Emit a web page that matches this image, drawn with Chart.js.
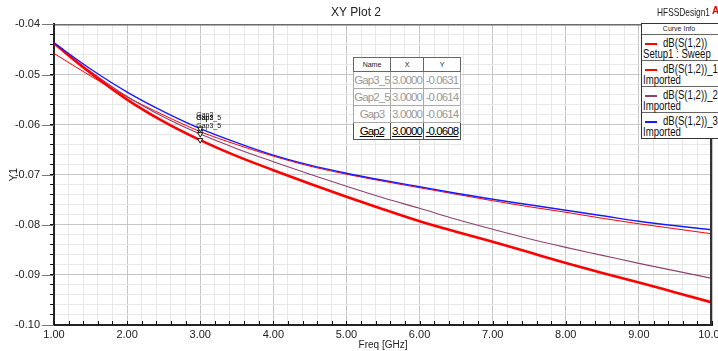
<!DOCTYPE html>
<html>
<head>
<meta charset="utf-8">
<script src="https://cdn.jsdelivr.net/npm/chart.js@4.4.1/dist/chart.umd.min.js"></script>
<style>
html, body { margin: 0; padding: 0; background: #fff; overflow: hidden; }
#wrap { position: relative; width: 718px; height: 351px; font-family: "Liberation Sans", Arial, sans-serif; }
#c { position: absolute; left: 0; top: 0; }
.design { position: absolute; left: 657px; top: 6px; font-size: 11px; color: #222; white-space: nowrap; transform: scaleX(0.76); transform-origin: 0 0; }
.logo { position: absolute; left: 712px; top: 5px; font-size: 10px; color: #e00; font-weight: bold; }
#curveInfo { position: absolute; left: 641px; top: 23px; width: 84px; border: 1px solid #333; background: #fff; }
#curveInfo .hd { height: 10px; line-height: 10px; font-size: 7px; text-align: center; border-bottom: 1px solid #666; color: #222; padding-right: 10px; }
#curveInfo .ent { position: relative; height: 25px; border-bottom: 1px solid #666; font-size: 12px; color: #111; }
#curveInfo .ent:last-child { border-bottom: none; }
#curveInfo .sw { position: absolute; left: 3px; top: 8px; width: 12px; height: 2px; }
#curveInfo .t1, #curveInfo .t2 { position: absolute; white-space: nowrap; transform: scaleX(0.8); transform-origin: 0 0; }
#curveInfo .t1 { left: 21px; top: 1px; }
#curveInfo .t2 { left: 1px; top: 12px; }
#markers { position: absolute; left: 353px; top: 57px; border-collapse: collapse; background: #fff; font-size: 11.5px; letter-spacing: -0.9px; }
#markers td { border: 1px solid #aaa; padding: 0; height: 16px; text-align: center; color: #999; white-space: nowrap; overflow: hidden; }
#markers tr.h td { height: 13px; font-size: 7px; letter-spacing: 0; color: #222; border-color: #666; }
#markers tr.sel td { color: #000; text-decoration: underline; border-color: #555; }
</style>
</head>
<body>
<div id="wrap">
  <canvas id="c" width="718" height="351"></canvas>
  <div class="design">HFSSDesign1</div>
  <div class="logo">A</div>
  <div id="curveInfo"></div>
  <table id="markers"></table>
</div>
<script>
var freq = [1, 1.5, 2, 2.5, 3, 3.5, 4, 4.5, 5, 5.5, 6, 6.5, 7, 7.5, 8, 8.5, 9, 9.5, 10];

// dB(S(1,2)) Setup1 : Sweep
var sweep = [-0.0458, -0.0503, -0.0545, -0.0581, -0.0614, -0.0640, -0.0663, -0.0683, -0.0699, -0.0713,
             -0.0726, -0.0739, -0.0752, -0.0764, -0.0775, -0.0787, -0.0798, -0.0808, -0.0818];
// dB(S(1,2))_1 Imported
var imp1 = [-0.0438, -0.0497, -0.0550, -0.0594, -0.0631, -0.0663, -0.0691, -0.0718, -0.0744, -0.0769,
            -0.0793, -0.0814, -0.0834, -0.0855, -0.0876, -0.0896, -0.0915, -0.0935, -0.0955];
// dB(S(1,2))_2 Imported
var imp2 = [-0.0437, -0.0494, -0.0544, -0.0585, -0.0619, -0.0648, -0.0674, -0.0699, -0.0723, -0.0746,
            -0.0767, -0.0789, -0.0809, -0.0828, -0.0845, -0.0861, -0.0877, -0.0892, -0.0907];
// dB(S(1,2))_3 Imported
var imp3 = [-0.0437, -0.0489, -0.0535, -0.0574, -0.0608, -0.0636, -0.0661, -0.0681, -0.0697, -0.0711,
            -0.0724, -0.0737, -0.0749, -0.0760, -0.0771, -0.0782, -0.0793, -0.0802, -0.0810];

var curveNames = ['dB(S(1,2))', 'dB(S(1,2))_1', 'dB(S(1,2))_2', 'dB(S(1,2))_3'];
var curveSources = ['Setup1 : Sweep', 'Imported', 'Imported', 'Imported'];
var curveColors = ['#ff0000', '#ff0000', '#8e4270', '#1a1aff'];

var markerNames = ['Gap3_5', 'Gap2_5', 'Gap3', 'Gap2'];
var markerX = [3, 3, 3, 3];
var markerY = [-0.0631, -0.0614, -0.0614, -0.0608];

// legend box
var ci = document.getElementById('curveInfo');
var html = '<div class="hd">Curve Info</div>';
for (var i = 0; i < curveNames.length; i++) {
    html += '<div class="ent"><span class="sw" style="background:' + curveColors[i] + '"></span>' +
            '<span class="t1">' + curveNames[i] + '</span><span class="t2">' + curveSources[i] + '</span></div>';
}
ci.innerHTML = html;

// marker table
var tb = '<tr class="h"><td style="width:36px">Name</td><td style="width:32px">X</td><td style="width:36px">Y</td></tr>';
for (var i = 0; i < markerNames.length; i++) {
    tb += '<tr' + (i == markerNames.length - 1 ? ' class="sel"' : '') + '><td>' + markerNames[i] + '</td><td>' +
          markerX[i].toFixed(4) + '</td><td>' + markerY[i].toFixed(4) + '</td></tr>';
}
document.getElementById('markers').innerHTML = tb;

function pts(arr) {
    return freq.map(function (f, k) { return {x: f, y: arr[k]}; });
}
function isMajor(v, m) {
    return Math.abs(v * m - Math.round(v * m)) < 1e-6;
}
function markerRadius(ctx) {
    return freq[ctx.dataIndex] === 3 ? 3 : 0;
}

Chart.defaults.font.family = '"Liberation Sans", Arial, sans-serif';
Chart.defaults.color = '#222';

// frame, extra tick marks and marker labels
var decor = {
    id: 'decor',
    afterDatasetsDraw: function (chart) {
        var c = chart.ctx, a = chart.chartArea;
        var xs = chart.scales.x, ys = chart.scales.y;
        c.save();
        c.strokeStyle = '#333';
        c.lineWidth = 1;
        c.beginPath(); c.moveTo(a.left, a.top + 0.5); c.lineTo(a.right, a.top + 0.5); c.stroke();
        c.lineWidth = 2;
        c.beginPath(); c.moveTo(a.right - 1, a.top); c.lineTo(a.right - 1, a.bottom); c.stroke();
        // long grey major ticks on y
        c.strokeStyle = '#777';
        c.lineWidth = 1;
        ys.ticks.forEach(function (t) {
            if (!isMajor(t.value, 100)) return;
            var py = Math.round(ys.getPixelForValue(t.value)) + 0.5;
            c.beginPath(); c.moveTo(a.left - 12, py); c.lineTo(a.left, py); c.stroke();
        });
        // short inward ticks on x
        c.strokeStyle = '#111';
        xs.ticks.forEach(function (t) {
            var px = Math.round(xs.getPixelForValue(t.value)) + 0.5;
            c.beginPath(); c.moveTo(px, a.bottom); c.lineTo(px, a.bottom - 4); c.stroke();
        });
        // marker labels
        c.fillStyle = '#111';
        c.font = '7px "Liberation Sans", Arial, sans-serif';
        c.textBaseline = 'middle';
        for (var i = 0; i < markerNames.length; i++) {
            var px = xs.getPixelForValue(markerX[i]);
            var py = ys.getPixelForValue(markerY[i]);
            c.fillText(markerNames[i], px - 4, py - 14);
        }
        c.restore();
    }
};

new Chart(document.getElementById('c'), {
    type: 'line',
    data: {
        datasets: [
            {label: curveNames[3], data: pts(imp3), borderColor: curveColors[3], borderWidth: 1.4},
            {label: curveNames[1], data: pts(imp1), borderColor: curveColors[1], borderWidth: 2.6},
            {label: curveNames[2], data: pts(imp2), borderColor: curveColors[2], borderWidth: 1.1},
            {label: curveNames[0], data: pts(sweep), borderColor: curveColors[0], borderWidth: 1}
        ].map(function (d) {
            d.fill = false;
            d.cubicInterpolationMode = 'monotone';
            d.pointRadius = markerRadius;
            d.pointStyle = 'triangle';
            d.rotation = 180;
            d.pointBorderColor = '#111';
            d.pointBackgroundColor = '#fff';
            d.pointBorderWidth = 1;
            return d;
        })
    },
    options: {
        responsive: false,
        animation: false,
        events: [],
        layout: {padding: {left: 0, right: 6, top: 0, bottom: 0}},
        plugins: {
            legend: {display: false},
            tooltip: {enabled: false},
            title: {
                display: true,
                text: 'XY Plot 2',
                color: '#222',
                font: {size: 12, weight: 'normal'},
                padding: {top: 5, bottom: 5}
            }
        },
        scales: {
            x: {
                type: 'linear',
                min: 1,
                max: 10,
                afterFit: function (s) { s.height = 26; s.paddingLeft = 0; s.paddingRight = 0; },
                ticks: {
                    stepSize: 0.2,
                    autoSkip: false,
                    maxRotation: 0,
                    padding: 3,
                    color: '#222',
                    font: {size: 11},
                    callback: function (v) { return isMajor(v, 1) ? v.toFixed(2) : ''; }
                },
                grid: {
                    drawTicks: false,
                    color: function (ctx) { return isMajor(ctx.tick.value, 1) ? '#c6c6c6' : '#e8e8e8'; }
                },
                border: {color: '#222', width: 2},
                title: {display: true, text: 'Freq [GHz]', color: '#222', font: {size: 10}, padding: {top: 0, bottom: 0}}
            },
            y: {
                type: 'linear',
                min: -0.1,
                max: -0.04,
                afterFit: function (s) { s.width = 54; s.paddingTop = 0; s.paddingBottom = 0; },
                ticks: {
                    stepSize: 0.002,
                    autoSkip: false,
                    padding: 10,
                    color: '#222',
                    font: {size: 11},
                    callback: function (v) { return isMajor(v, 100) ? v.toFixed(2) : ''; }
                },
                grid: {
                    drawTicks: true,
                    tickLength: 4,
                    tickColor: '#111',
                    color: function (ctx) { return isMajor(ctx.tick.value, 100) ? '#c6c6c6' : '#e8e8e8'; }
                },
                border: {color: '#222', width: 2},
                title: {display: true, text: 'Y1', color: '#222', font: {size: 11}, padding: {top: 7, bottom: 0}}
            }
        }
    },
    plugins: [decor]
});
</script>
</body>
</html>
